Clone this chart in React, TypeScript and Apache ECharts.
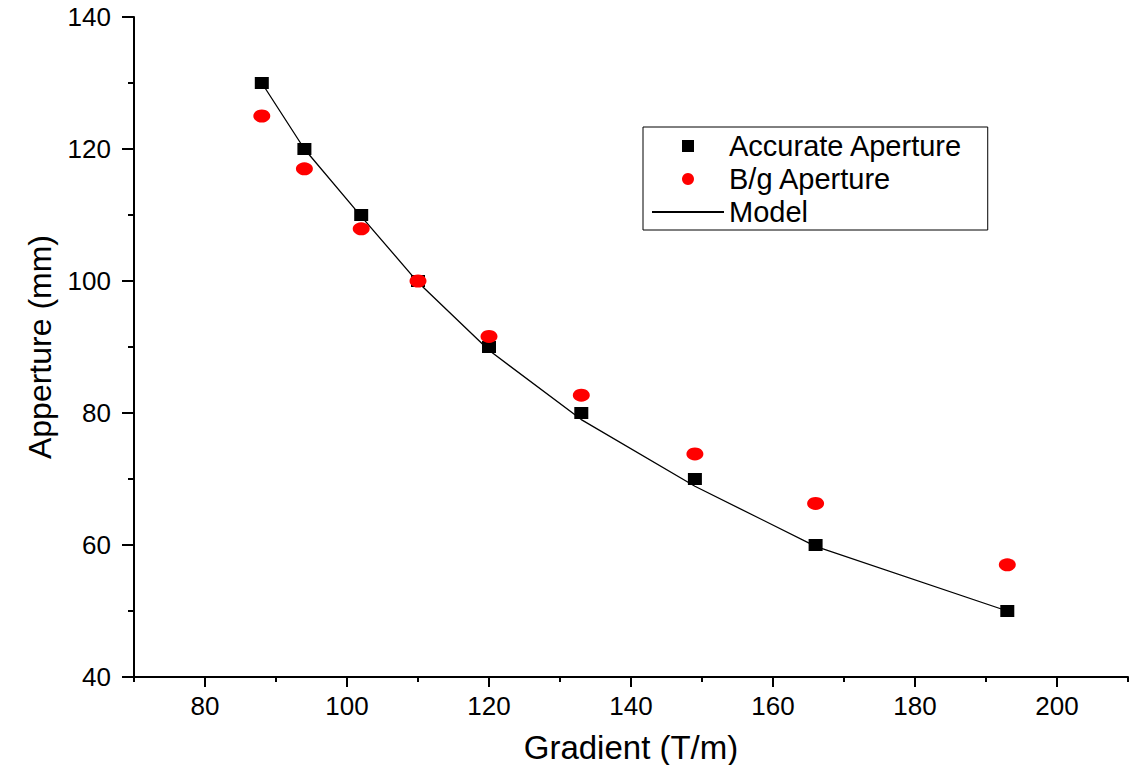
import React, { useEffect, useRef } from "react";
import * as echarts from "echarts";

const gradient = [88, 94, 102, 110, 120, 133, 149, 166, 193];
const accurateAperture = [130, 120, 110, 100, 90, 80, 70, 60, 50];
const bgAperture = [125, 117, 107.9, 100, 91.6, 82.7, 73.8, 66.3, 57];
const modelAperture = [130, 120, 109.8, 99.8, 89.5, 79.0, 68.9, 59.8, 50];

const xMajorTicks = [80, 100, 120, 140, 160, 180, 200];
const xMinorTicks = [70, 90, 110, 130, 150, 170, 190, 210];

const FONT = "Liberation Sans, Arial, sans-serif";
const SQUARE = "path://M0,0H10V10H0Z";

export default function App() {
  const ref = useRef<HTMLDivElement>(null);
  useEffect(() => {
    if (!ref.current) return;
    const chart = echarts.init(ref.current, undefined, { renderer: "svg" });
    const pts = (ys: number[]) => gradient.map((x, i) => [x, ys[i]]);
    chart.setOption({
      animation: false,
      backgroundColor: "#fff",
      textStyle: { fontFamily: FONT },
      grid: { left: 134, right: 10, top: 17, bottom: 88, containLabel: false, outerBoundsMode: "none" },
      legend: {
        orient: "vertical",
        left: 643,
        top: 127,
        padding: [4, 25, 3, 8],
        itemGap: 3,
        itemWidth: 72,
        itemHeight: 12,
        symbolKeepAspect: true,
        borderColor: "#000",
        borderWidth: 1,
        backgroundColor: "#fff",
        textStyle: { fontSize: 29, color: "#000", fontFamily: FONT, lineHeight: 30 },
        data: [
          { name: "Accurate Aperture", icon: SQUARE, itemStyle: { color: "#000" } },
          { name: "B/g Aperture", icon: "circle", itemStyle: { color: "#ff0000" } },
          { name: "Model", itemStyle: { color: "rgba(0,0,0,0)", opacity: 0 } },
        ],
      },
      xAxis: [
        {
          type: "value",
          min: 70,
          max: 210,
          name: "Gradient (T/m)",
          nameLocation: "middle",
          nameGap: 54,
          nameTextStyle: { fontSize: 33, color: "#000", fontFamily: FONT },
          splitLine: { show: false },
          axisLine: { show: true, lineStyle: { color: "#000", width: 2 } },
          axisTick: { show: true, length: 10, customValues: xMajorTicks, lineStyle: { color: "#000", width: 2 } },
          axisLabel: { customValues: xMajorTicks, fontSize: 26, color: "#000", margin: 16, fontFamily: FONT },
        },
        {
          type: "value",
          min: 70,
          max: 210,
          position: "bottom",
          splitLine: { show: false },
          axisLine: { show: false },
          axisTick: { show: true, length: 5, customValues: xMinorTicks, lineStyle: { color: "#000", width: 2 } },
          axisLabel: { show: false },
        },
      ],
      yAxis: {
        type: "value",
        min: 40,
        max: 140,
        interval: 20,
        name: "Apperture (mm)",
        nameLocation: "middle",
        nameGap: 78,
        nameTextStyle: { fontSize: 32, color: "#000", fontFamily: FONT },
        splitLine: { show: false },
        axisLine: { show: true, lineStyle: { color: "#000", width: 2 } },
        axisTick: { show: true, length: 12, lineStyle: { color: "#000", width: 2 } },
        minorTick: { show: true, splitNumber: 2, length: 6, lineStyle: { color: "#000", width: 2 } },
        axisLabel: { fontSize: 26, color: "#000", margin: 23, fontFamily: FONT },
      },
      series: [
        {
          name: "Model",
          type: "line",
          data: pts(modelAperture),
          showSymbol: false,
          symbol: "none",
          lineStyle: { color: "#000", width: 1.3 },
          itemStyle: { color: "#000" },
          z: 1,
        },
        {
          name: "B/g Aperture",
          type: "scatter",
          data: pts(bgAperture),
          symbol: "circle",
          symbolSize: [17, 13],
          itemStyle: { color: "#ff0000", opacity: 1 },
          z: 3,
        },
        {
          name: "Accurate Aperture",
          type: "scatter",
          data: pts(accurateAperture),
          symbol: "rect",
          symbolSize: [14, 12],
          itemStyle: { color: "#000", opacity: 1 },
          z: 2,
        },
      ],
    });
    return () => chart.dispose();
  }, []);
  return (
    <div
      ref={ref}
      style={{ position: "fixed", left: 0, top: 0, width: 1138, height: 765 }}
    />
  );
}
